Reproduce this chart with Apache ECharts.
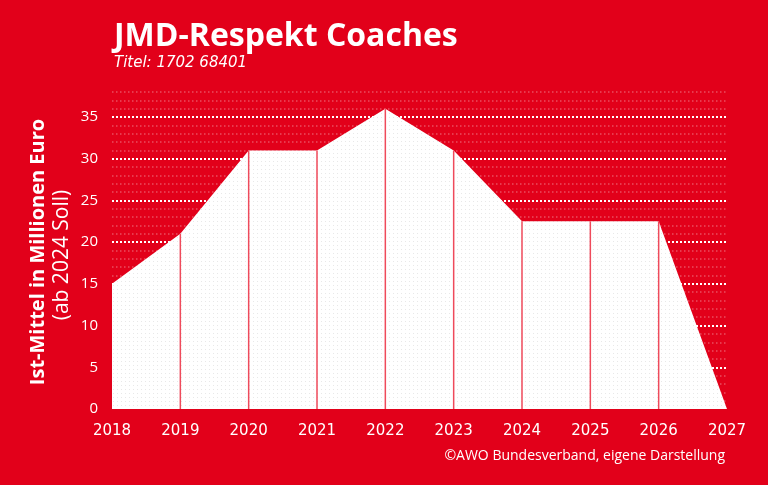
<!DOCTYPE html>
<html>
<head>
<meta charset="utf-8">
<script src="https://cdn.jsdelivr.net/npm/echarts@6/dist/echarts.min.js"></script>
<style>
  html, body { margin: 0; padding: 0; background: #e2001a; }
  #chart { width: 768px; height: 485px; }
</style>
</head>
<body>
<div id="chart"></div>
<script>
// Jahre und Mittel (Mio. Euro), ab 2024 Soll
var years = [2018, 2019, 2020, 2021, 2022, 2023, 2024, 2025, 2026, 2027];
var funds = [15, 21, 31, 31, 36, 31, 22.5, 22.5, 22.5, 0];

var titleText = 'JMD-Respekt Coaches';
var subText = 'Titel: 1702 68401';
var yName1 = 'Ist-Mittel in Millionen Euro';
var yName2 = '(ab 2024 Soll)';
var sourceText = '©AWO Bundesverband, eigene Darstellung';

var red = '#e2001a';

// weisse Flaeche mit feinem grauen Punktraster
function dotPattern() {
    var c = document.createElement('canvas');
    c.width = 4; c.height = 4;
    var ctx = c.getContext('2d');
    ctx.fillStyle = '#ffffff';
    ctx.fillRect(0, 0, 4, 4);
    ctx.fillStyle = '#e8e8e8';
    ctx.fillRect(1, 1, 1, 1);
    return c;
}

var areaData = years.map(function (y, i) { return [y, funds[i]]; });
// senkrechte Trennlinien nur innen
var dividerData = [];
for (var i = 1; i < years.length - 1; i++) {
    dividerData.push([years[i], funds[i]]);
}

var option = {
    backgroundColor: red,
    animation: false,
    title: {
        text: titleText,
        subtext: subText,
        left: 109,
        top: 16,
        itemGap: 3,
        textStyle: {
            color: '#fff',
            fontFamily: 'Open Sans',
            fontWeight: 'bold',
            fontSize: 32
        },
        subtextStyle: {
            color: '#fff',
            fontFamily: 'DejaVu Sans',
            fontStyle: 'italic',
            fontSize: 15
        }
    },
    grid: {
        left: 112,
        right: 41,
        top: 92,
        bottom: 76
    },
    xAxis: {
        type: 'value',
        min: 2018,
        max: 2027,
        interval: 1,
        axisLine: { show: false },
        axisTick: { show: false },
        splitLine: { show: false },
        axisLabel: {
            color: '#fff',
            fontFamily: 'DejaVu Sans',
            fontSize: 15,
            margin: 15,
            formatter: function (v) { return String(v); }
        }
    },
    yAxis: [
        {
            type: 'value',
            min: 0,
            max: 38,
            interval: 5,
            axisLine: { show: false },
            axisTick: { show: false },
            axisLabel: {
                color: '#fff',
                fontFamily: 'Open Sans',
                fontSize: 15,
                margin: 14,
                showMaxLabel: false
            },
            splitLine: {
                show: true,
                showMinLine: false,
                showMaxLine: false,
                lineStyle: { color: '#fff', width: 2, type: [2, 2] }
            }
        },
        {
            type: 'value',
            min: 0,
            max: 38,
            interval: 1,
            axisLine: { show: false },
            axisTick: { show: false },
            axisLabel: { show: false },
            splitLine: {
                show: true,
                showMinLine: false,
                lineStyle: { color: 'rgba(255,255,255,0.3)', width: 1.5, type: [1.5, 2.5] }
            }
        }
    ],
    series: [
        {
            type: 'line',
            data: areaData,
            symbol: 'none',
            lineStyle: { width: 0 },
            areaStyle: {
                color: { image: dotPattern(), repeat: 'repeat' },
                opacity: 1
            },
            z: 3
        },
        {
            type: 'bar',
            data: dividerData,
            barWidth: 1.5,
            itemStyle: { color: '#ef4a5b' },
            z: 4
        }
    ],
    graphic: [
        {
            type: 'text',
            x: 38,
            y: 252,
            rotation: Math.PI / 2,
            style: {
                text: yName1,
                fill: '#fff',
                fontFamily: 'Open Sans',
                fontWeight: 'bold',
                fontSize: 20,
                align: 'center',
                verticalAlign: 'middle'
            }
        },
        {
            type: 'text',
            x: 62,
            y: 255,
            rotation: Math.PI / 2,
            style: {
                text: yName2,
                fill: '#fff',
                fontFamily: 'Open Sans',
                fontSize: 21,
                align: 'center',
                verticalAlign: 'middle'
            }
        },
        {
            type: 'text',
            right: 43,
            top: 449,
            style: {
                text: sourceText,
                fill: '#fff',
                fontFamily: 'Open Sans',
                fontSize: 14
            }
        }
    ]
};

var chart = echarts.init(document.getElementById('chart'));
chart.setOption(option);
</script>
</body>
</html>
